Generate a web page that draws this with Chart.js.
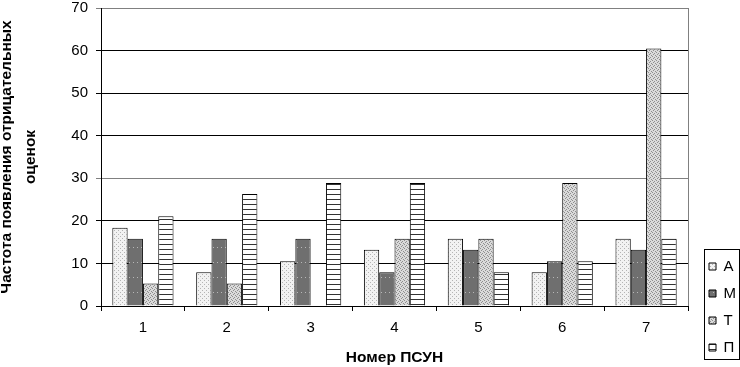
<!DOCTYPE html>
<html>
<head>
<meta charset="utf-8">
<script src="https://cdn.jsdelivr.net/npm/chart.js@4"></script>
<style>
  body { margin: 0; background: #fff; }
  canvas { display: block; }
</style>
</head>
<body>
<canvas id="psun" width="740" height="367"></canvas>
<script>
// chart data
const categories = ['1', '2', '3', '4', '5', '6', '7'];
const seriesNames = ['А', 'М', 'Т', 'П'];
const valuesA = [18.4, 7.9, 10.5, 13.2, 15.8, 7.9, 15.8];
const valuesM = [15.8, 15.8, 15.8, 7.9, 13.2, 10.5, 13.2];
const valuesT = [5.3, 5.3, 0, 15.8, 15.8, 28.9, 60.5];
const valuesP = [21.1, 26.3, 28.9, 28.9, 7.9, 10.5, 15.8];
const yTicks = [0, 10, 20, 30, 40, 50, 60, 70];

// fill patterns like the old office chart
function makePattern(w, h, draw) {
    let c = document.createElement('canvas');
    c.width = w; c.height = h;
    let g = c.getContext('2d');
    draw(g);
    return g.createPattern(c, 'repeat');
}
const patA = makePattern(4, 4, function(g) {
    g.fillStyle = '#f2f2f2'; g.fillRect(0, 0, 4, 4);
    g.fillStyle = '#b4b4b4'; g.fillRect(0, 0, 1, 1); g.fillRect(2, 2, 1, 1);
});
const patM = makePattern(4, 15, function(g) {
    g.fillStyle = '#6f6f6f'; g.fillRect(0, 0, 4, 15);
    g.fillStyle = '#b8b8b8'; g.fillRect(1, 7, 1, 1);
});
const patT = makePattern(4, 4, function(g) {
    g.fillStyle = '#dadada'; g.fillRect(0, 0, 4, 4);
    g.fillStyle = '#8e8e8e';
    g.fillRect(0, 0, 1, 1); g.fillRect(2, 1, 1, 1); g.fillRect(1, 2, 1, 1); g.fillRect(3, 3, 1, 1);
});
const patP = makePattern(4, 5, function(g) {
    g.fillStyle = '#ffffff'; g.fillRect(0, 0, 4, 5);
    g.fillStyle = '#333333'; g.fillRect(0, 4, 4, 1);
});

const allValues = [valuesA, valuesM, valuesT, valuesP];
const fills = [patA, patM, patT, patP];

// gray frame on the right, legend moved a bit and boxed
const framePlugin = {
    id: 'frame',
    afterLayout(chart) {
        chart.legend.left += 9;
        chart.legend.right += 9;
    },
    beforeDatasetsDraw(chart) {
        let ctx = chart.ctx, a = chart.chartArea;
        ctx.save();
        ctx.strokeStyle = '#808080';
        ctx.lineWidth = 1;
        ctx.beginPath();
        ctx.moveTo(Math.round(a.right) + 0.5, a.top);
        ctx.lineTo(Math.round(a.right) + 0.5, a.bottom);
        ctx.stroke();
        ctx.restore();
    },
    afterDraw(chart) {
        let boxes = chart.legend.legendHitBoxes;
        if (!boxes || !boxes.length) return;
        let left = Math.min(...boxes.map(b => b.left)) - 5;
        let top = Math.min(...boxes.map(b => b.top)) - 10;
        let right = Math.max(...boxes.map(b => b.left + b.width)) + 3;
        let bottom = Math.max(...boxes.map(b => b.top + b.height)) + 4;
        let ctx = chart.ctx;
        ctx.save();
        ctx.strokeStyle = '#000';
        ctx.lineWidth = 1;
        ctx.strokeRect(Math.round(left) + 0.5, Math.round(top) + 0.5, Math.round(right - left), Math.round(bottom - top));
        ctx.restore();
    }
};

let datasets = [];
for (let j = 0; j < seriesNames.length; j++) {
    datasets.push({
        label: seriesNames[j],
        data: allValues[j],
        backgroundColor: fills[j],
        borderColor: '#000',
        borderWidth: 1,
        borderSkipped: 'bottom',
        barPercentage: 1.0,
        categoryPercentage: 0.73
    });
}

new Chart(document.getElementById('psun'), {
    type: 'bar',
    data: { labels: categories, datasets: datasets },
    plugins: [framePlugin],
    options: {
        responsive: false,
        animation: false,
        devicePixelRatio: 1,
        layout: { padding: { top: 0, right: 3, bottom: 0, left: 0 } },
        plugins: {
            tooltip: { enabled: false },
            legend: {
                display: true,
                position: 'right',
                align: 'end',
                labels: {
                    boxWidth: 7,
                    boxHeight: 7,
                    padding: 12,
                    color: '#000',
                    font: { family: 'Liberation Sans', size: 15 }
                }
            }
        },
        scales: {
            x: {
                afterFit: function(axis) { axis.height = 61; },
                grid: { offset: true, drawOnChartArea: false, drawTicks: true, tickLength: 5, color: '#000' },
                border: { display: true, color: '#000' },
                ticks: { color: '#000', padding: 9, font: { family: 'Liberation Sans', size: 15, lineHeight: 1 } },
                title: {
                    display: true,
                    text: 'Номер ПСУН',
                    color: '#000',
                    padding: { top: 0, bottom: 0 },
                    font: { family: 'Liberation Sans', size: 15.5, weight: 'bold', lineHeight: 1.2 }
                }
            },
            y: {
                min: 0,
                max: 70,
                afterFit: function(axis) { axis.width = 101; },
                afterBuildTicks: function(axis) { axis.ticks = yTicks.map(v => ({ value: v })); },
                grid: {
                    color: function(c) {
                        return c.tick && (c.tick.value === 70 || c.tick.value === 30) ? '#808080' : '#000';
                    },
                    tickLength: 5
                },
                border: { display: true, color: '#000' },
                ticks: { color: '#000', padding: 8, font: { family: 'Liberation Sans', size: 15, lineHeight: '0px' } },
                title: {
                    display: true,
                    text: ['Частота появления отрицательных', 'оценок'],
                    color: '#000',
                    padding: { top: -5, bottom: 0 },
                    font: { family: 'Liberation Sans', size: 15.5, weight: 'bold', lineHeight: '24px' }
                }
            }
        }
    }
});
</script>
</body>
</html>
